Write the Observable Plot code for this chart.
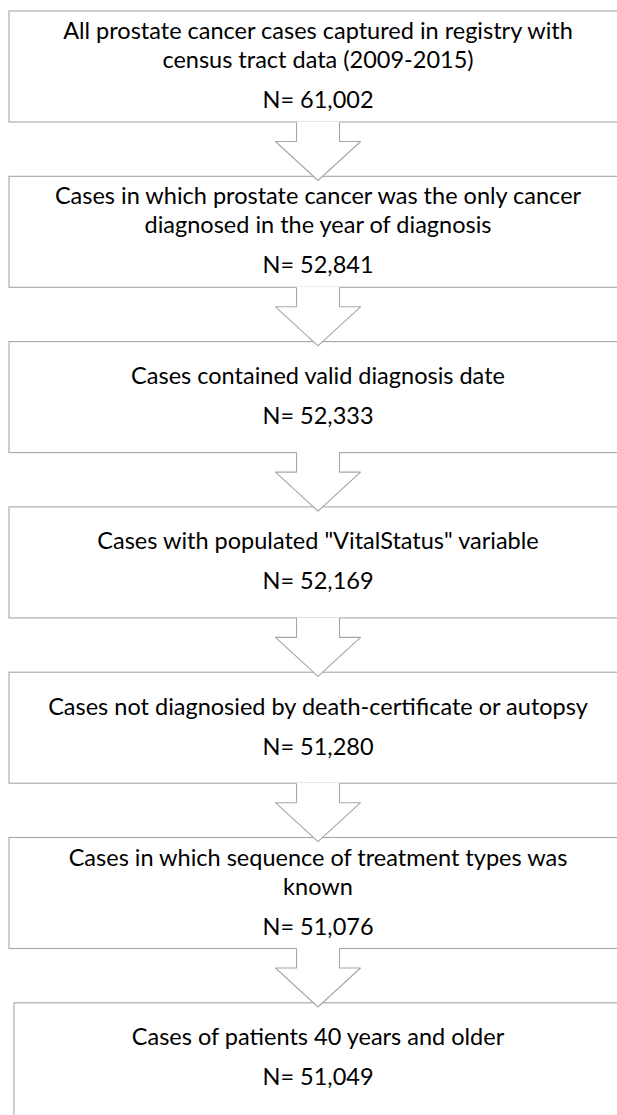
<!DOCTYPE html>
<html>
<head>
<meta charset="utf-8">
<script src="https://cdn.jsdelivr.net/npm/d3@7"></script>
<script src="https://cdn.jsdelivr.net/npm/@observablehq/plot@0.6"></script>
<style>
  html, body { margin: 0; padding: 0; background: #ffffff; overflow: hidden; }
</style>
</head>
<body>
<div id="chart"></div>
<script>
// ---- Data: flowchart steps (text as wrapped in the figure) and counts ----
const stepLabels = [
  "All prostate cancer cases captured in registry with\ncensus tract data (2009-2015)",
  "Cases in which prostate cancer was the only cancer\ndiagnosed in the year of diagnosis",
  "Cases contained valid diagnosis date",
  "Cases with populated \"VitalStatus\" variable",
  "Cases not diagnosied by death-certificate or autopsy",
  "Cases in which sequence of treatment types was\nknown",
  "Cases of patients 40 years and older"
];
const stepCounts = [61002, 52841, 52333, 52169, 51280, 51076, 51049];

// ---- Layout (pixel space) ----
const W = 617, H = 1115;
const firstTop = 11, pitch = 165.3, boxH = 111;
const boxLeft = 9, lastBoxLeft = 14, boxRight = W + 20; // boxes run off the right edge
const cx = 317.5;               // centre line of text and arrows
const lineGap = 29, nGap = 40;  // baseline spacing
const fontSize = 23.5;
const shaftHalf = 21.5, headHalf = 42.5, shaftLen = 19, arrowLen = 58;
const last = stepLabels.length - 1;
const fmt = d3.format(",");

const steps = stepLabels.map((label, i) => {
  const lines = label.split("\n");
  const top = firstTop + i * pitch;
  const span = (lines.length - 1) * lineGap + nGap;
  const firstBase = top + 62 - span / 2;
  const lastBase = firstBase + (lines.length - 1) * lineGap;
  return {
    i, label, n: stepCounts[i],
    x1: i === last ? lastBoxLeft : boxLeft,
    x2: boxRight,
    y1: top,
    y2: i === last ? H + 5 : top + boxH, // last box is cropped by the figure edge
    lastBase,
    nBase: lastBase + nGap
  };
});

// arrows between consecutive boxes
const arrowPts = [];
const arrowOutline = [];
steps.slice(0, -1).forEach(s => {
  const b = s.y2;
  const poly = [
    [cx - shaftHalf, b], [cx - shaftHalf, b + shaftLen], [cx - headHalf, b + shaftLen],
    [cx, b + arrowLen],
    [cx + headHalf, b + shaftLen], [cx + shaftHalf, b + shaftLen], [cx + shaftHalf, b]
  ];
  poly.forEach(([x, y], k) => arrowPts.push({a: s.i, k, x, y: k === 0 || k === 6 ? y - 1 : y}));
  poly.forEach(([x, y], k) => arrowOutline.push({a: s.i, k, x, y}));
});

const stroke = "#a6a6a6";
const font = "Lato, 'Open Sans', sans-serif";

const chart = Plot.plot({
  width: W,
  height: H,
  margin: 0,
  x: {domain: [0, W], range: [0, W], axis: null},
  y: {domain: [0, H], range: [0, H], axis: null},
  style: {fontFamily: font, background: "#ffffff", overflow: "hidden"},
  marks: [
    Plot.rect(steps, {x1: "x1", x2: "x2", y1: "y1", y2: "y2", fill: "#ffffff", stroke, strokeWidth: 1.1}),
    Plot.line(arrowPts, {x: "x", y: "y", z: "a", fill: "#ffffff", stroke: "none"}),
    Plot.line(arrowOutline, {x: "x", y: "y", z: "a", stroke, strokeWidth: 1.1, curve: "linear"}),
    Plot.text(steps, {
      x: () => cx, y: "lastBase", text: "label",
      lineAnchor: "bottom", lineHeight: lineGap / fontSize,
      fontSize, fill: "#000000", textAnchor: "middle"
    }),
    Plot.text(steps, {
      x: () => cx, y: "nBase", text: d => `N= ${fmt(d.n)}`,
      lineAnchor: "bottom", fontSize, fill: "#000000", textAnchor: "middle"
    })
  ]
});

document.getElementById("chart").append(chart);
</script>
</body>
</html>
